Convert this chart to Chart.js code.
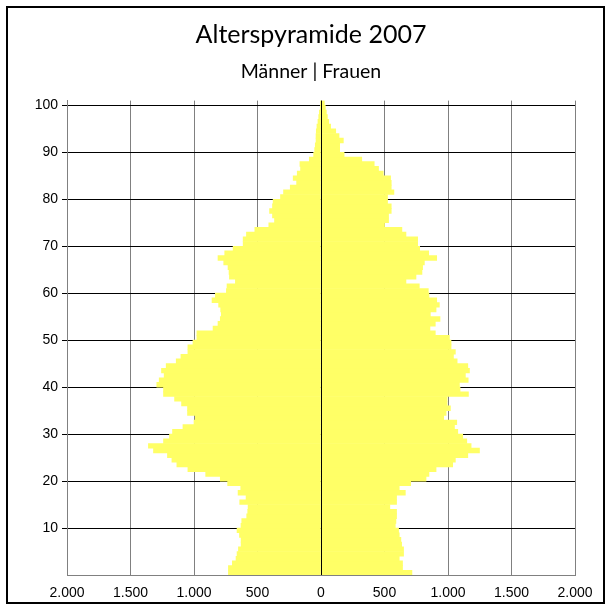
<!DOCTYPE html>
<html>
<head>
<meta charset="utf-8">
<script src="https://cdn.jsdelivr.net/npm/chart.js@4.4.1/dist/chart.umd.min.js"></script>
<style>
html,body{margin:0;padding:0;background:#ffffff;}
#wrap{width:611px;height:610px;}
</style>
</head>
<body>
<div id="wrap"><canvas id="c" width="611" height="610"></canvas></div>
<script>
// ---- data ----
const ages = Array.from({length: 101}, (_, i) => String(i));

const maleValues = [
  729, 729, 698, 669, 661, 650, 629, 629, 642, 661,
  630, 624, 585, 577, 574, 640, 590, 653, 632, 735,
  793, 908, 1048, 1135, 1174, 1209, 1319, 1359, 1240, 1193,
  1169, 1087, 1000, 990, 1051, 1051, 1098, 1153, 1240, 1240,
  1293, 1274, 1235, 1256, 1219, 1140, 1103, 1048, 1048, 1008,
  977, 977, 850, 811, 793, 785, 790, 806, 858, 832,
  745, 740, 674, 721, 724, 732, 766, 811, 758, 692,
  613, 613, 587, 521, 411, 366, 382, 405, 382, 377,
  319, 295, 242, 192, 219, 187, 161, 166, 92, 58,
  50, 45, 39, 39, 37, 32, 24, 18, 13, 5,
  5
];

const femaleValues = [
  716, 642, 642, 616, 650, 650, 635, 629, 616, 611,
  585, 590, 595, 595, 542, 595, 595, 664, 616, 706,
  827, 850, 906, 1037, 1058, 1156, 1248, 1182, 1148, 1116,
  1077, 1051, 1069, 966, 985, 1019, 993, 993, 1161, 1095,
  1090, 1159, 1137, 1169, 1156, 1072, 1043, 1058, 1024, 1024,
  1011, 900, 858, 900, 937, 861, 906, 932, 911, 850,
  845, 774, 669, 748, 795, 800, 814, 911, 848, 777,
  761, 761, 669, 637, 500, 532, 532, 553, 553, 524,
  524, 574, 553, 553, 548, 490, 453, 419, 321, 182,
  147, 147, 176, 142, 116, 76, 61, 50, 42, 34,
  26
];

const yTickAges = [10, 20, 30, 40, 50, 60, 70, 80, 90, 100];
const titleText = 'Alterspyramide 2007';
const subtitleText = 'Männer | Frauen';

// ---- helpers ----
function fmtThousands(v) {
  return String(Math.abs(v)).replace(/\B(?=(\d{3})+(?!\d))/g, '.');
}

const framePlugin = {
  id: 'frame',
  afterDraw(chart) {
    const ctx = chart.ctx;
    ctx.save();
    ctx.strokeStyle = '#000000';
    ctx.lineWidth = 2;
    ctx.strokeRect(7, 7, 597, 596);
    ctx.restore();
  }
};

const zeroLinePlugin = {
  id: 'zeroLine',
  afterDatasetsDraw(chart) {
    const x = Math.round(chart.scales.x.getPixelForValue(0)) + 0.5;
    const a = chart.chartArea;
    const ctx = chart.ctx;
    ctx.save();
    ctx.strokeStyle = '#000000';
    ctx.lineWidth = 1;
    ctx.beginPath();
    ctx.moveTo(x, a.top);
    ctx.lineTo(x, a.bottom);
    ctx.stroke();
    ctx.restore();
  }
};

const tickFont = {family: 'Liberation Sans', size: 14};

new Chart(document.getElementById('c'), {
  type: 'bar',
  data: {
    labels: ages,
    datasets: [
      {
        label: 'Männer',
        data: maleValues.map(v => -v),
        backgroundColor: '#FFFF66',
        borderWidth: 0,
        barPercentage: 1,
        categoryPercentage: 1
      },
      {
        label: 'Frauen',
        data: femaleValues,
        backgroundColor: '#FFFF66',
        borderWidth: 0,
        barPercentage: 1,
        categoryPercentage: 1
      }
    ]
  },
  options: {
    indexAxis: 'y',
    responsive: false,
    animation: false,
    layout: {padding: {left: 11, right: 0, top: 0, bottom: 6}},
    plugins: {
      legend: {display: false},
      tooltip: {enabled: false},
      title: {
        display: true,
        text: titleText,
        color: '#000000',
        font: {family: 'Lato', size: 25, weight: 'normal'},
        padding: {top: 19.5, bottom: 0}
      },
      subtitle: {
        display: true,
        text: subtitleText,
        color: '#000000',
        font: {family: 'Lato', size: 19.5, weight: 'normal'},
        padding: {top: 10.1, bottom: 17.6}
      }
    },
    scales: {
      x: {
        type: 'linear',
        min: -2000,
        max: 2000,
        stacked: true,
        ticks: {
          stepSize: 500,
          autoSkip: false,
          maxRotation: 0,
          color: '#000000',
          font: tickFont,
          padding: 10,
          callback: v => fmtThousands(v)
        },
        grid: {color: '#808080', drawTicks: false},
        border: {color: '#808080'},
        afterFit: s => { s.height = 29; }
      },
      y: {
        type: 'category',
        reverse: true,
        stacked: true,
        offset: true,
        display: false
      },
      yAge: {
        type: 'linear',
        position: 'left',
        min: 0,
        max: 101,
        offset: false,
        ticks: {
          stepSize: 10,
          includeBounds: false,
          autoSkip: false,
          color: '#000000',
          font: tickFont,
          padding: 4,
          callback: v => yTickAges.includes(v) ? String(v) : ''
        },
        grid: {
          offset: false,
          color: c => (c.tick && c.tick.value === 0) ? 'rgba(0,0,0,0)' : '#000000',
          drawTicks: true,
          tickLength: 5
        },
        border: {color: '#808080'},
        afterFit: s => { s.width = 56; }
      },
      yPad: {
        type: 'linear',
        position: 'right',
        min: 0,
        max: 1,
        offset: false,
        ticks: {display: false},
        grid: {display: false, offset: false},
        border: {display: false},
        afterFit: s => { s.width = 36; }
      }
    }
  },
  plugins: [framePlugin, zeroLinePlugin]
});
</script>
</body>
</html>
